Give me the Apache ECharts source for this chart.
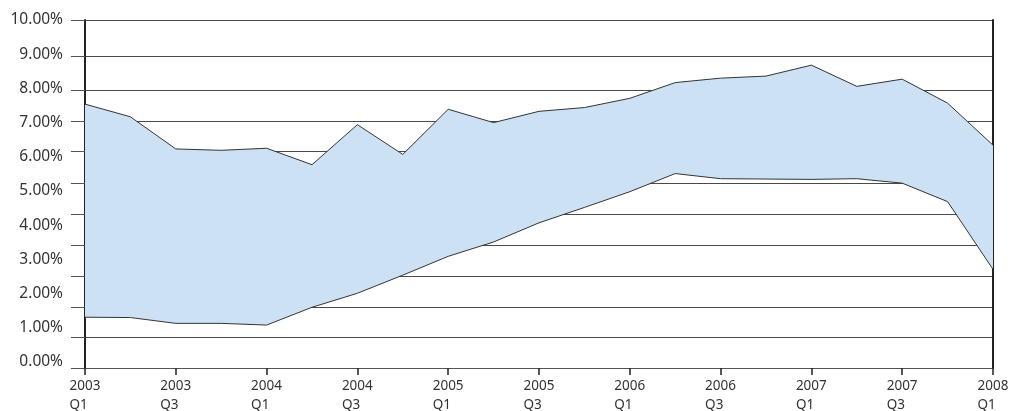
<!DOCTYPE html>
<html><head><meta charset="utf-8">
<script src="https://cdn.jsdelivr.net/npm/echarts@6/dist/echarts.min.js"></script>
<style>html,body{margin:0;padding:0;background:#fff}#c{width:1011px;height:411px}</style>
</head><body><div id="c"></div>
<script>
const categories = ['2003 Q1','2003 Q2','2003 Q3','2003 Q4','2004 Q1','2004 Q2','2004 Q3','2004 Q4','2005 Q1','2005 Q2','2005 Q3','2005 Q4','2006 Q1','2006 Q2','2006 Q3','2006 Q4','2007 Q1','2007 Q2','2007 Q3','2007 Q4','2008 Q1'];
const upper = [7.54,7.17,6.23,6.19,6.25,5.77,6.94,6.07,7.39,7.00,7.33,7.44,7.71,8.17,8.30,8.36,8.68,8.06,8.27,7.57,6.34];
const lower = [1.31,1.30,1.13,1.13,1.08,1.60,2.01,2.54,3.09,3.51,4.07,4.52,4.98,5.51,5.36,5.35,5.34,5.36,5.23,4.69,2.71];
const yLabels = [0,1,2,3,4,5,6,7,8,9,10];
const gridLines = [10,8.947,7.953,7.047,6.17,5.234,4.327,3.421,2.515,1.608,0.731,-0.175];

const band = upper.map((u,i)=>+(u-lower[i]).toFixed(3));
const FONT = 'Noto Sans';
const chart = echarts.init(document.getElementById('c'), null, {renderer:'canvas'});
chart.setOption({
  animation:false,
  grid:{left:85,right:18,top:20,bottom:43,containLabel:false,outerBoundsMode:'none'},
  xAxis:{
    type:'category', data:categories, boundaryGap:false,
    axisLine:{show:true,onZero:false,lineStyle:{color:'#555',width:1}},
    axisTick:{show:true,interval:1,length:7,lineStyle:{color:'#222',width:1.5}},
    axisLabel:{
      interval:1, margin:9, color:'#333', fontFamily:FONT, fontSize:13.5, lineHeight:19,
      formatter:v=>{const p=v.split(' ');return '{a|'+p[0]+'}\n{a|'+p[1]+'}';},
      rich:{a:{width:31,align:'left',fontFamily:FONT,fontSize:13.5,color:'#333',lineHeight:19}}
    },
    splitLine:{show:false}
  },
  yAxis:[{
    type:'value', min:-0.175, max:10, position:'left',
    axisLine:{show:true,onZero:false,lineStyle:{color:'#222',width:2}},
    axisTick:{show:true,inside:false,length:14,customValues:gridLines,lineStyle:{color:'#555',width:1}},
    axisLabel:{customValues:yLabels,margin:22,color:'#333',fontFamily:FONT,fontSize:15.5,
      formatter:v=>v.toFixed(2)+'%'},
    splitLine:{show:true,lineStyle:{color:'#4a4a4a',width:1}}
  },{
    type:'value', min:-0.175, max:10, position:'right',
    axisLine:{show:true,onZero:false,lineStyle:{color:'#222',width:2}},
    axisTick:{show:false}, axisLabel:{show:false}, splitLine:{show:false}
  }],
  series:[
    {name:'lower',type:'line',stack:'b',data:lower,symbol:'none',z:3,
     lineStyle:{color:'#333',width:1}},
    {name:'band',type:'line',stack:'b',data:band,symbol:'none',z:2,
     lineStyle:{color:'#333',width:1},areaStyle:{color:'#cde1f4',opacity:1}}
  ]
});
</script></body></html>
